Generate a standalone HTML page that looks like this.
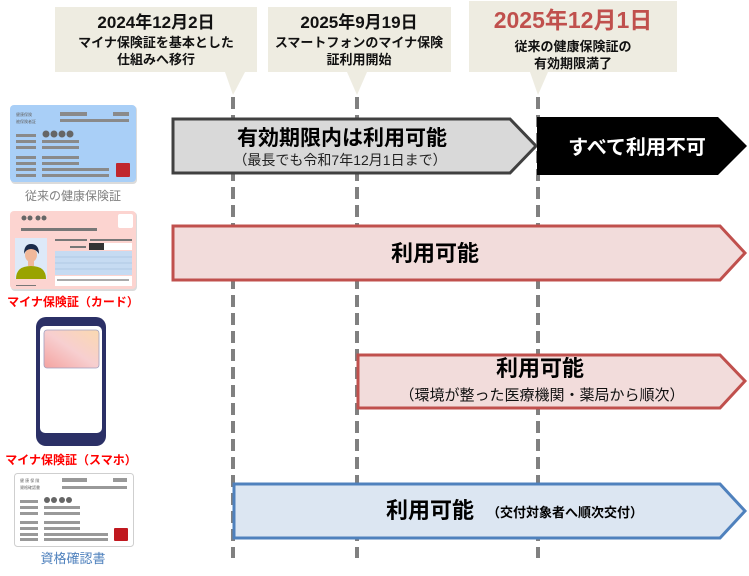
<!DOCTYPE html>
<html><head><meta charset="utf-8"><style>
html,body{margin:0;padding:0;background:#fff;}
svg{display:block;font-family:"Liberation Sans","Noto Sans CJK JP",sans-serif;}
</style></head><body>
<svg width="749" height="576" viewBox="0 0 749 576" xmlns="http://www.w3.org/2000/svg">
<defs>
<linearGradient id="pg" x1="0" y1="1" x2="1" y2="0">
<stop offset="0" stop-color="#f4a3a0"/><stop offset="0.5" stop-color="#f7cfd0"/><stop offset="1" stop-color="#fbd9b0"/>
</linearGradient>
</defs>
<g fill="#eeece1">
<rect x="55" y="7" width="202" height="65"/><polygon points="225,72 245,72 233,95"/>
<rect x="268" y="7" width="183" height="65"/><polygon points="347,72 367,72 357,95"/>
<rect x="469" y="1" width="208" height="71"/><polygon points="530,72 548,72 538,95"/>
</g>
<g font-weight="bold" text-anchor="middle" fill="#111">
<text x="156" y="28" font-size="17">2024年12月2日</text>
<text x="156" y="47" font-size="13">マイナ保険証を基本とした</text>
<text x="156" y="64" font-size="13">仕組みへ移行</text>
<text x="359" y="28" font-size="17">2025年9月19日</text>
<text x="359" y="47" font-size="13">スマートフォンのマイナ保険</text>
<text x="359" y="64" font-size="13">証利用開始</text>
<text x="573" y="28" font-size="23" fill="#c0504d">2025年12月1日</text>
<text x="573" y="51" font-size="13">従来の健康保険証の</text>
<text x="573" y="68" font-size="13">有効期限満了</text>
</g>
<g stroke="#808080" stroke-width="4" stroke-dasharray="12,6">
<line x1="233" y1="97" x2="233" y2="558"/>
<line x1="357" y1="97" x2="357" y2="558"/>
<line x1="538" y1="97" x2="538" y2="558"/>
</g>
<polygon points="173,119 510,119 536,146 510,173 173,173" fill="#d9d9d9" stroke="#404040" stroke-width="3"/>
<polygon points="537,117 718,117 747,146 718,175 537,175" fill="#000"/>
<polygon points="173,226 720,226 745,253 720,280 173,280" fill="#f2dcdb" stroke="#c0504d" stroke-width="3"/>
<polygon points="358,355 720,355 745,381 720,408 358,408" fill="#f2dcdb" stroke="#c0504d" stroke-width="3"/>
<polygon points="234,484 720,484 745,511 720,538 234,538" fill="#dce6f2" stroke="#4f81bd" stroke-width="3"/>
<g font-weight="bold" fill="#000">
<text x="342" y="145" font-size="21" text-anchor="middle">有効期限内は利用可能</text>
<text x="637" y="154" font-size="20" text-anchor="middle" fill="#fff">すべて利用不可</text>
<text x="435" y="261" font-size="22" text-anchor="middle">利用可能</text>
<text x="540" y="376" font-size="22" text-anchor="middle">利用可能</text>
<text x="386" y="518" font-size="22">利用可能</text>
<text x="487" y="517" font-size="13">（交付対象者へ順次交付）</text>
</g>
<text x="340" y="165" font-size="14" text-anchor="middle" fill="#222">（最長でも令和7年12月1日まで）</text>
<text x="542" y="400" font-size="15" text-anchor="middle" fill="#111">（環境が整った医療機関・薬局から順次）</text>
<rect x="11" y="106" width="126" height="78" rx="4" fill="#888" opacity="0.3"/>
<rect x="10" y="105" width="126" height="77" rx="4" fill="#a9cff7"/>
<g fill="#8a8a8a">
<rect x="60" y="112" width="27" height="4"/><rect x="113" y="112" width="16" height="4"/><rect x="60" y="119" width="69" height="3"/>
<rect x="16" y="134" width="20" height="3"/><rect x="16" y="140" width="20" height="3"/><rect x="16" y="146" width="20" height="3"/>
<rect x="16" y="156" width="20" height="3"/><rect x="16" y="162" width="20" height="3"/><rect x="16" y="168" width="20" height="3"/><rect x="16" y="174" width="20" height="3"/>
<rect x="42" y="140" width="37" height="3"/><rect x="42" y="146" width="37" height="3"/>
<rect x="42" y="156" width="37" height="3"/><rect x="42" y="162" width="37" height="3"/><rect x="42" y="168" width="67" height="3"/><rect x="42" y="174" width="67" height="3"/>
</g>
<g fill="#666"><circle cx="46" cy="134" r="3.5"/><circle cx="54" cy="134" r="3.5"/><circle cx="62" cy="134" r="3.5"/><circle cx="70" cy="134" r="3.5"/></g>
<text x="16" y="116" font-size="4" fill="#666">健康保険</text><text x="16" y="123" font-size="4" fill="#666">被保険者証</text>
<rect x="116" y="163" width="14" height="14" rx="1" fill="#c0272d"/>
<text x="73" y="200" font-size="12" text-anchor="middle" fill="#808080">従来の健康保険証</text>
<rect x="11" y="212" width="126" height="79" rx="4" fill="#888" opacity="0.3"/>
<rect x="10" y="211" width="126" height="78" rx="4" fill="#fcd4d0"/>
<g fill="#777">
<rect x="21" y="228" width="76" height="3"/><rect x="55" y="239" width="32" height="2"/><rect x="90" y="239" width="42" height="2"/>
<rect x="70" y="246" width="16" height="2"/><rect x="16" y="285" width="20" height="1"/>
</g>
<g fill="#666"><circle cx="24" cy="218" r="2.5"/><circle cx="30" cy="218" r="2.5"/><circle cx="38" cy="218" r="2.5"/><circle cx="44" cy="218" r="2.5"/></g>
<rect x="118" y="214" width="15" height="14" rx="2" fill="#fff"/>
<rect x="15" y="238" width="32" height="41" fill="#dde9f8"/>
<path d="M16,279 q0,-13 15,-13 q15,0 15,13z" fill="#9aa300"/>
<rect x="28" y="260" width="6" height="6" fill="#f0b89a"/>
<ellipse cx="31" cy="255" rx="6" ry="7" fill="#f0b89a"/>
<path d="M24,254 q0,-10 7,-10 q8,0 8,10 q-3,-5 -8,-5 q-5,0 -7,5z" fill="#1a2a4a"/>
<rect x="89" y="243" width="15" height="7" fill="#333"/><rect x="104" y="243" width="28" height="7" fill="#fff"/>
<rect x="55" y="251" width="77" height="24" fill="#c6dbf2"/>
<g stroke="#a8c3df" stroke-width="0.8"><line x1="55" y1="257" x2="132" y2="257"/><line x1="55" y1="263" x2="132" y2="263"/><line x1="55" y1="269" x2="132" y2="269"/></g>
<rect x="55" y="276" width="77" height="10" fill="#fff"/><rect x="57" y="279" width="72" height="2" fill="#aaa"/>
<text x="73" y="306" font-size="12" font-weight="bold" text-anchor="middle" fill="#ff0000">マイナ保険証（カード）</text>
<rect x="36" y="317" width="70" height="129" rx="10" fill="#2b3066"/>
<rect x="40" y="326" width="62" height="107" rx="5" fill="#fff"/>
<rect x="44" y="330" width="55" height="38" rx="3" fill="url(#pg)" stroke="#a0a0c0" stroke-width="0.8"/>
<text x="71" y="464" font-size="12" font-weight="bold" text-anchor="middle" fill="#ff0000">マイナ保険証（スマホ）</text>
<rect x="14.5" y="473.5" width="119" height="73" rx="3" fill="#fff" stroke="#cfcfcf"/>
<g fill="#999">
<rect x="62" y="478" width="25" height="4"/><rect x="113" y="478" width="14" height="4"/><rect x="62" y="486" width="65" height="3"/>
<rect x="20" y="500" width="18" height="3"/><rect x="20" y="506" width="18" height="3"/><rect x="20" y="512" width="18" height="3"/>
<rect x="20" y="521" width="18" height="3"/><rect x="20" y="527" width="18" height="3"/><rect x="20" y="533" width="18" height="3"/><rect x="20" y="538" width="18" height="3"/>
<rect x="44" y="506" width="36" height="3"/><rect x="44" y="512" width="36" height="3"/>
<rect x="44" y="521" width="36" height="3"/><rect x="44" y="527" width="36" height="3"/><rect x="44" y="533" width="64" height="3"/><rect x="44" y="538" width="64" height="3"/>
</g>
<g fill="#666"><circle cx="47" cy="500" r="3"/><circle cx="54" cy="500" r="3"/><circle cx="62" cy="500" r="3"/><circle cx="69" cy="500" r="3"/></g>
<text x="20" y="482" font-size="4" fill="#666">健 康 保 険</text><text x="20" y="489" font-size="4" fill="#666">資格確認書</text>
<rect x="114" y="528" width="14" height="13" rx="1" fill="#c0181f"/>
<text x="73" y="563" font-size="13" text-anchor="middle" fill="#4f81bd">資格確認書</text>
</svg>
</body></html>
